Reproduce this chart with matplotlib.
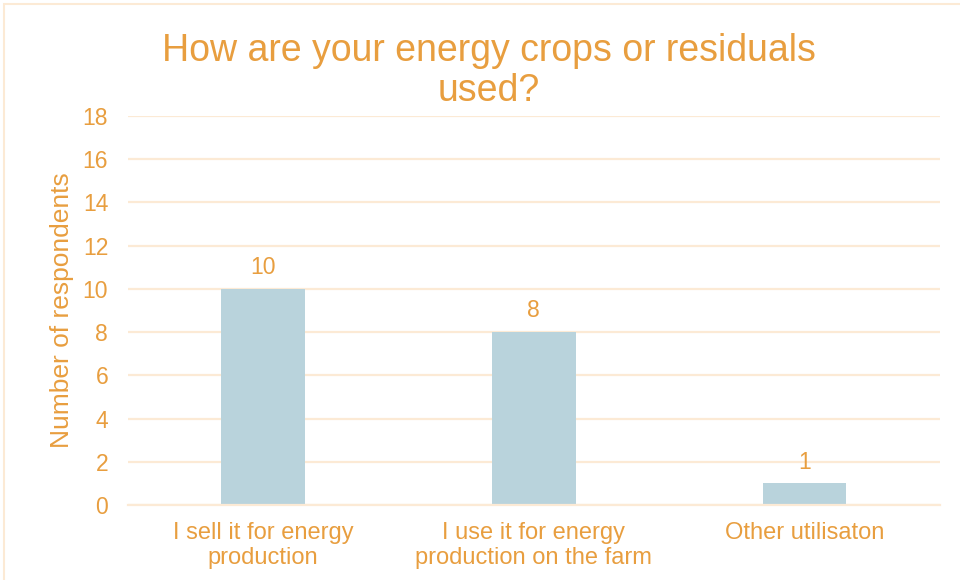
import matplotlib.pyplot as plt
from matplotlib.patches import Rectangle

# respostas da pesquisa
categorias = ["I sell it for energy\nproduction",
              "I use it for energy\nproduction on the farm",
              "Other utilisaton"]
respondentes = [10, 8, 1]
yticks = list(range(0, 20, 2))

laranja = "#E89E3F"
azul = "#B9D3DC"
grade = "#FCEAD5"

plt.rcParams['font.family'] = ['Liberation Sans', 'DejaVu Sans']

fig = plt.figure(figsize=(9.6, 5.8), dpi=100)
ax = fig.add_axes([0.133, 0.1293, 0.846, 0.6707])

x = range(len(categorias))
barras = ax.bar(x, respondentes, width=0.31, color=azul, zorder=2)
ax.bar_label(barras, labels=[str(v) for v in respondentes], padding=7,
             color=laranja, fontsize=16.5)

ax.set_xlim(-0.5, 2.5)
ax.set_ylim(0, 18)
ax.set_yticks(yticks)
ax.set_xticks(list(x))
ax.set_xticklabels(categorias, fontsize=17, color=laranja, linespacing=1.18)
ax.tick_params(axis='y', labelsize=16.5, labelcolor=laranja, length=0, pad=14)
ax.tick_params(axis='x', length=0, pad=12)
ax.grid(axis='y', color=grade, linewidth=1.6, zorder=0)
for lado in ['top', 'right', 'left']:
    ax.spines[lado].set_visible(False)
ax.spines['bottom'].set_color(grade)
ax.spines['bottom'].set_linewidth(1.6)

ax.set_ylabel("Number of respondents", fontsize=19, color=laranja, labelpad=6)

fig.text(0.509, 0.878, "How are your energy crops or residuals\nused?",
         ha='center', va='center', fontsize=27, color=laranja, linespacing=1.14)

# moldura clara em volta do gráfico
fig.patches.append(Rectangle((4 / 960, -0.01), 1.0, 1 - 4 / 580 + 0.01,
                             transform=fig.transFigure, fill=False,
                             edgecolor=grade, linewidth=1.5))

fig.savefig("out.png", dpi=100)
